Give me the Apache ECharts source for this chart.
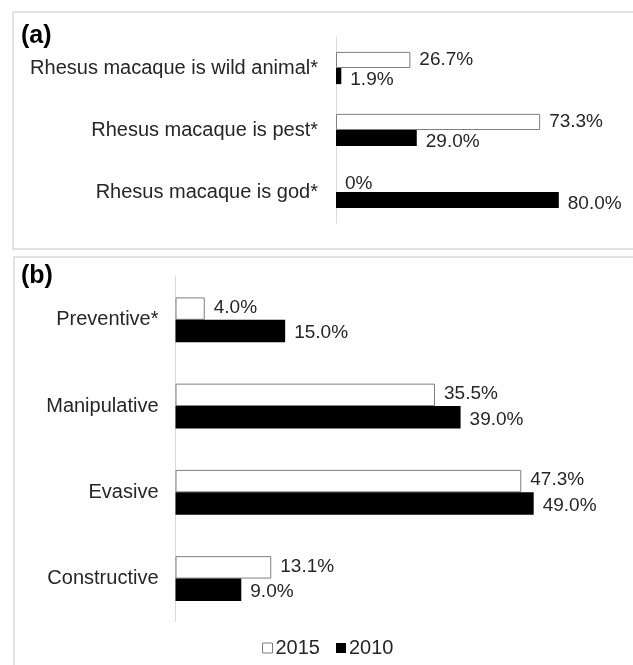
<!DOCTYPE html>
<html>
<head>
<meta charset="utf-8">
<script src="https://cdn.jsdelivr.net/npm/echarts@6/dist/echarts.min.js"></script>
<style>
  html, body { margin: 0; padding: 0; background: #fff; }
  #chart { width: 633px; height: 665px; }
</style>
</head>
<body>
<div id="chart"></div>
<script>
// ---- data ----
var panelTitles = ['(a)', '(b)'];
var seriesNames = ['2015', '2010'];

var catsA = ['Rhesus macaque is wild animal*', 'Rhesus macaque is pest*', 'Rhesus macaque is god*'];
var a2015 = [26.7, 73.3, 0];
var a2010 = [1.9, 29.0, 80.0];

var catsB = ['Preventive*', 'Manipulative', 'Evasive', 'Constructive'];
var b2015 = [4.0, 35.5, 47.3, 13.1];
var b2010 = [15.0, 39.0, 49.0, 9.0];

// ---- chart ----
var FONT = '"Liberation Sans", Arial, sans-serif';
var TXT = '#262626';
var chart = echarts.init(document.getElementById('chart'), null, { renderer: 'canvas' });

function fmt(p) {
  return p.value === 0 ? '0%' : p.value.toFixed(1) + '%';
}

var style2015 = { color: '#ffffff', borderColor: '#7f7f7f', borderWidth: 1 };
var style2010 = { color: '#000000', borderColor: '#000000', borderWidth: 0 };

function toItems(arr) {
  return arr.map(function (v) {
    return v === 0 ? { value: v, itemStyle: { borderWidth: 0, color: 'rgba(0,0,0,0)' } } : v;
  });
}

function barSeries(name, data, xi, st, labelOffset) {
  return {
    type: 'bar',
    name: name,
    xAxisIndex: xi,
    yAxisIndex: xi,
    data: toItems(data),
    barGap: '0%',
    barCategoryGap: '48%',
    itemStyle: st,
    label: {
      show: true,
      position: 'right',
      distance: 9,
      offset: labelOffset,
      formatter: fmt,
      color: TXT,
      fontSize: 19,
      fontFamily: FONT
    },
    emphasis: { disabled: true },
    animation: false
  };
}

var option = {
  backgroundColor: '#ffffff',
  animation: false,
  textStyle: { fontFamily: FONT },
  graphic: [
    { type: 'rect', shape: { x: 13, y: 12, width: 660, height: 237 },
      style: { fill: 'none', stroke: '#d9d9d9', lineWidth: 1.5 }, silent: true },
    { type: 'rect', shape: { x: 14, y: 257, width: 660, height: 440 },
      style: { fill: 'none', stroke: '#d9d9d9', lineWidth: 1.5 }, silent: true },
    { type: 'text', left: 21, top: 24,
      style: { text: panelTitles[0], fontSize: 25, fontWeight: 'bold', fill: '#000', fontFamily: FONT } },
    { type: 'text', left: 21, top: 264,
      style: { text: panelTitles[1], fontSize: 25, fontWeight: 'bold', fill: '#000', fontFamily: FONT } }
  ],
  legend: {
    data: [
      { name: seriesNames[0], itemStyle: style2015 },
      { name: seriesNames[1], itemStyle: style2010 }
    ],
    left: 257,
    top: 633,
    itemWidth: 10,
    itemHeight: 10,
    itemGap: 16,
    icon: 'rect',
    textStyle: { color: TXT, fontSize: 20, fontFamily: FONT, padding: [0, 0, 0, -2] },
    selectedMode: false
  },
  grid: [
    { left: 336, top: 37, width: 278.5, height: 186, containLabel: false },
    { left: 175.5, top: 276.7, width: 438.6, height: 345, containLabel: false }
  ],
  xAxis: [
    { type: 'value', gridIndex: 0, min: 0, max: 100, show: false },
    { type: 'value', gridIndex: 1, min: 0, max: 60, show: false }
  ],
  yAxis: [
    { type: 'category', gridIndex: 0, data: catsA, inverse: true,
      axisLine: { show: true, lineStyle: { color: '#d9d9d9', width: 1 } },
      axisTick: { show: false },
      axisLabel: { margin: 18, color: TXT, fontSize: 20, fontFamily: FONT } },
    { type: 'category', gridIndex: 1, data: catsB, inverse: true,
      axisLine: { show: true, lineStyle: { color: '#d9d9d9', width: 1 } },
      axisTick: { show: false },
      axisLabel: { margin: 17, color: TXT, fontSize: 20, fontFamily: FONT } }
  ],
  series: [
    barSeries(seriesNames[0], a2015, 0, style2015, [0, 0]),
    barSeries(seriesNames[1], a2010, 0, style2010, [0, 4]),
    barSeries(seriesNames[0], b2015, 1, style2015, [0, -1]),
    barSeries(seriesNames[1], b2010, 1, style2010, [0, 2])
  ]
};
chart.setOption(option);
</script>
</body>
</html>
